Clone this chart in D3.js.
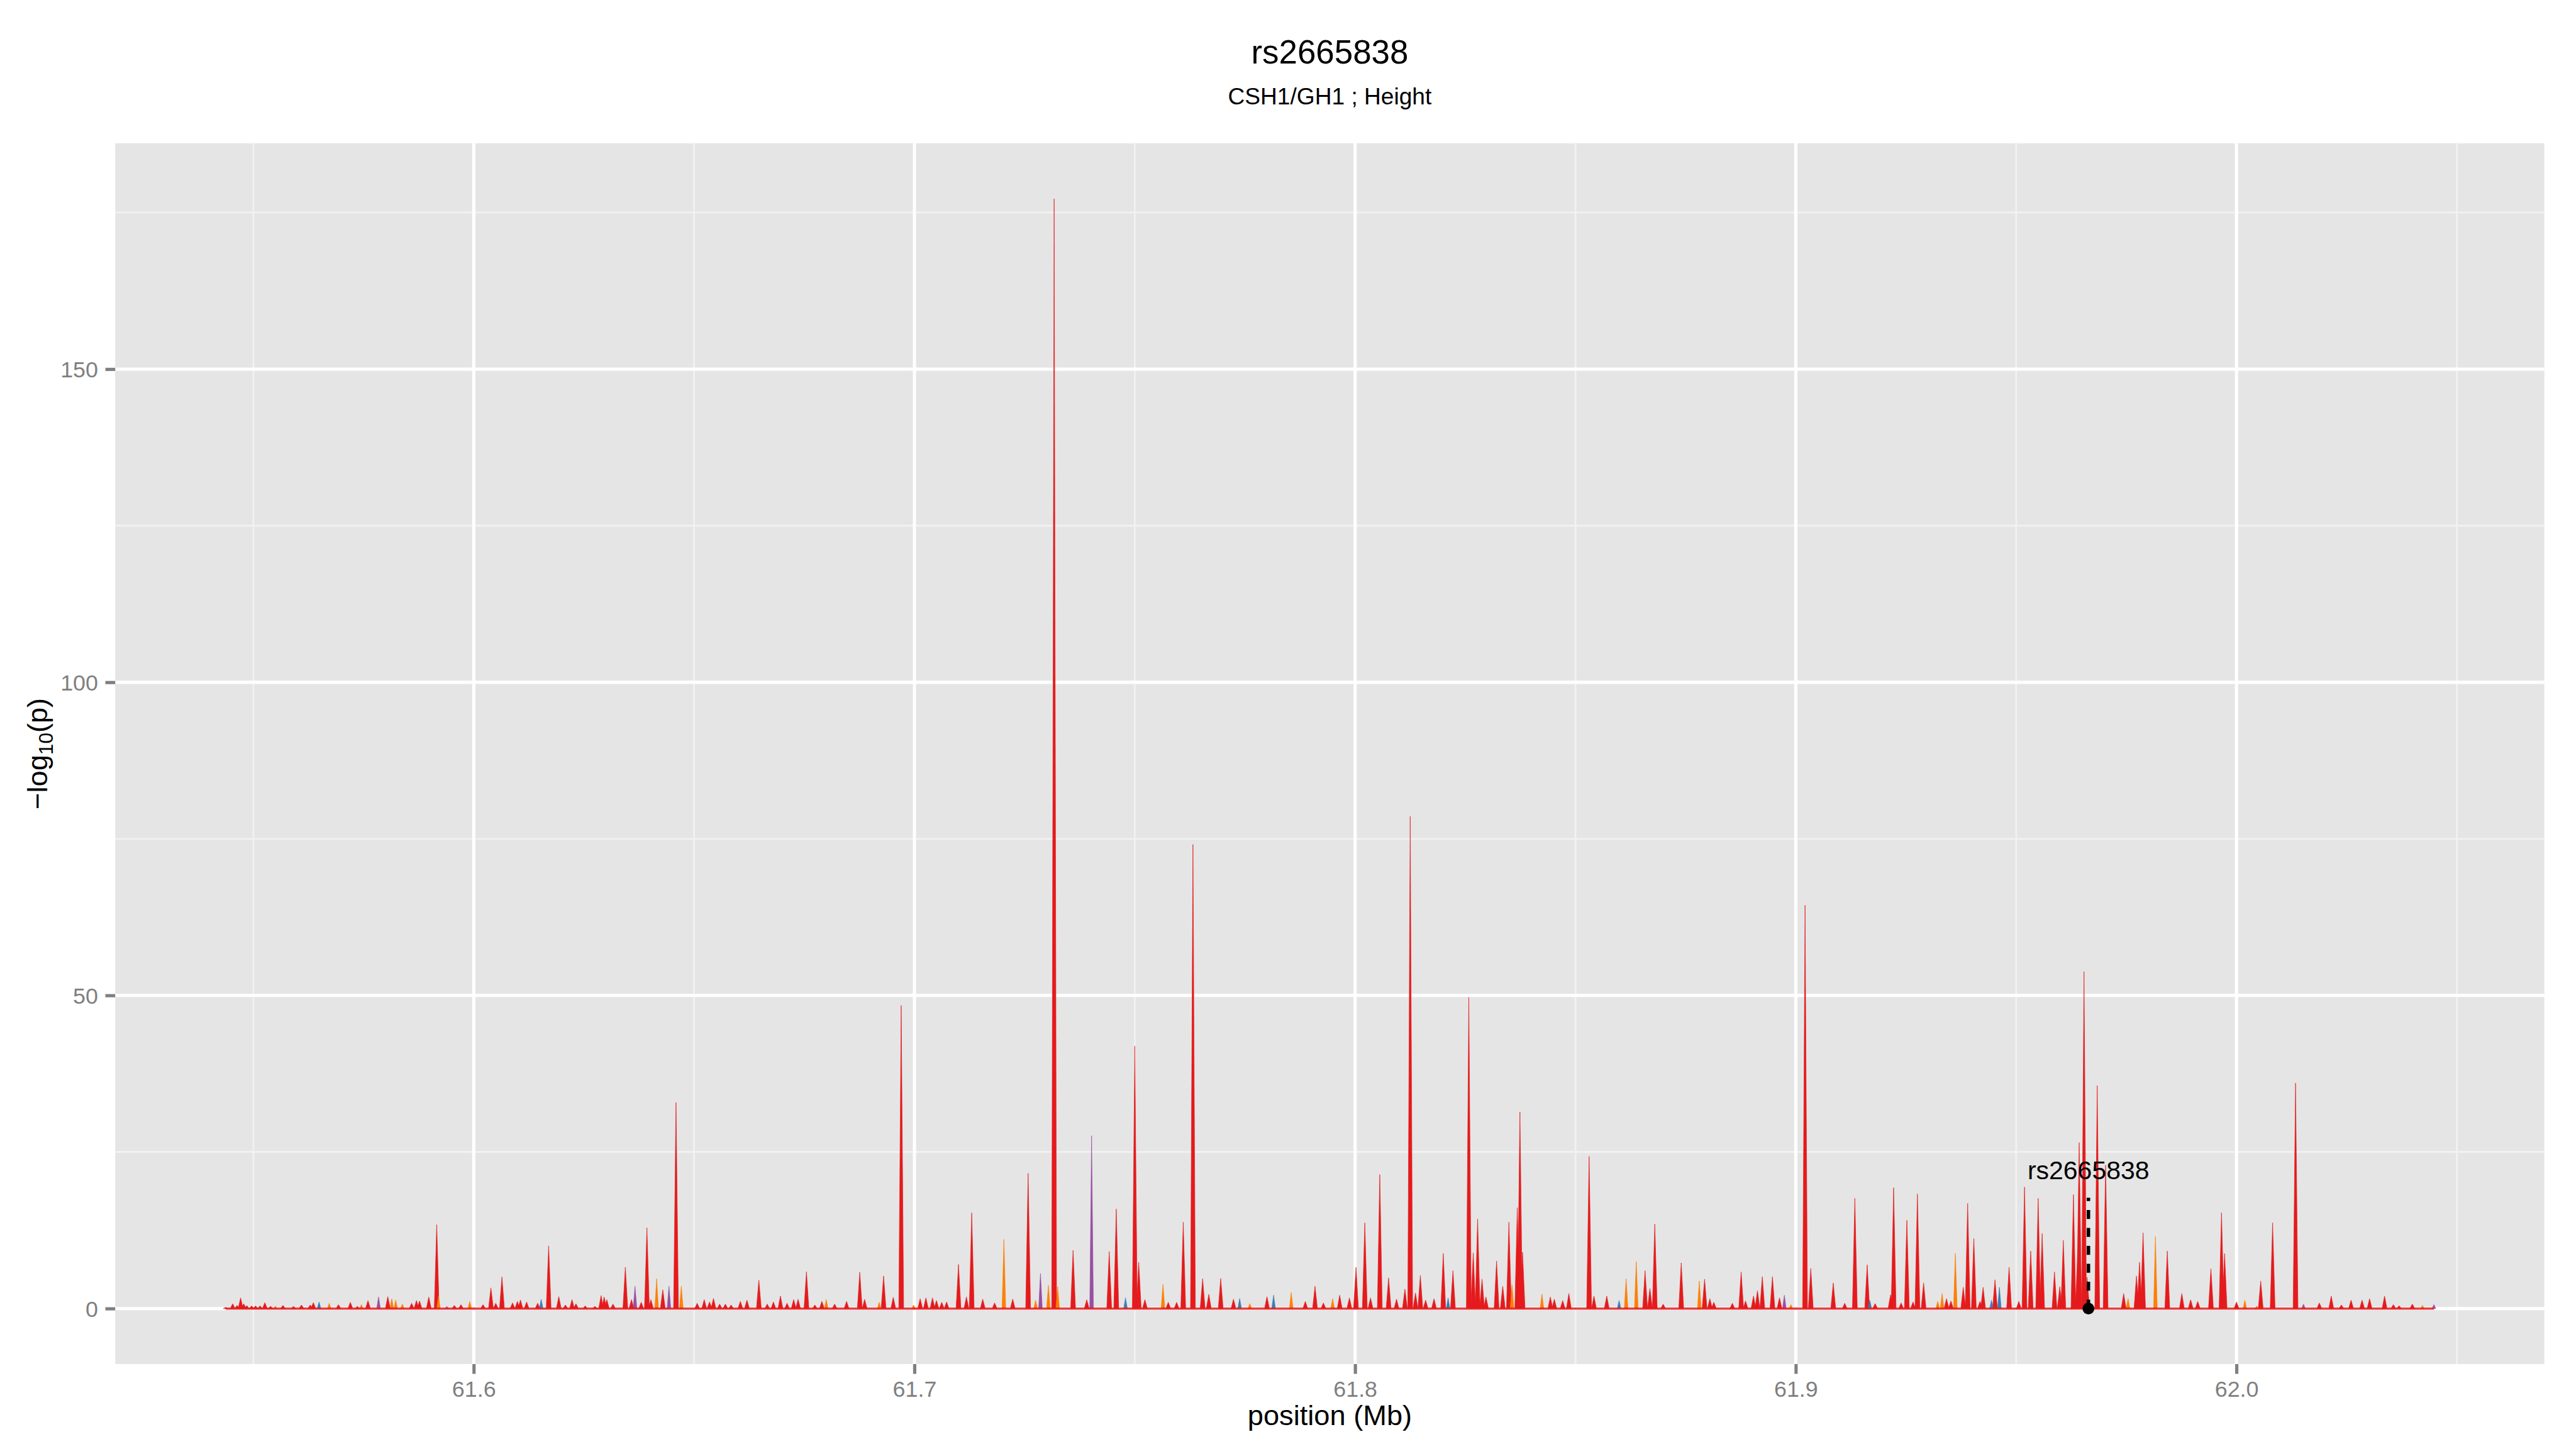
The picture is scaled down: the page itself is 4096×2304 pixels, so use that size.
<!DOCTYPE html>
<html>
<head>
<meta charset="utf-8">
<script src="https://cdnjs.cloudflare.com/ajax/libs/d3/7.8.5/d3.min.js"></script>
<style>
  html, body { margin: 0; padding: 0; background: #ffffff; }
  svg { display: block; }
  text { font-family: "Liberation Sans", Arial, Helvetica, sans-serif; }
</style>
</head>
<body>
<div id="chart"></div>
<script>
// ---------------- DATA ----------------
const chartTitle = "rs2665838";
const chartSubtitle = "CSH1/GH1 ; Height";
const xAxisTitle = "position (Mb)";

const xTickValues = [61.6, 61.7, 61.8, 61.9, 62.0];
const xMinorValues = [61.55, 61.65, 61.75, 61.85, 61.95, 62.05];
const yTickValues = [0, 50, 100, 150];
const yMinorValues = [25, 75, 125, 175];

// LD groups (fill colours)
const groupNames = ["red", "orange", "purple", "blue"];
const groupColors = ["#E41A1C", "#FF7F00", "#984EA3", "#377EB8"];

// red group: position (Mb) and -log10(p)
const redPos = [61.5437,61.5453,61.5463,61.5471,61.5478,61.5485,61.5496,61.5505,61.5515,61.5526,61.5539,61.5567,61.5591,61.5609,61.5629,61.5636,61.5693,61.5720,61.5736,61.5760,61.5805,61.5859,61.5870,61.5877,61.5898,61.5916,61.5956,61.5971,61.6021,61.6039,61.6050,61.6064,61.6088,61.6099,61.6106,61.6120,61.6145,61.6170,61.6193,61.6208,61.6223,61.6232,61.6253,61.6275,61.6289,61.6296,61.6302,61.6316,61.6344,61.6358,61.6380,61.6393,61.6402,61.6429,61.6459,61.6507,61.6523,61.6535,61.6544,61.6558,61.6571,61.6584,61.6605,61.6620,61.6647,61.6666,61.6680,61.6696,61.6711,61.6726,61.6736,61.6755,61.6774,61.6790,61.6819,61.6846,61.6876,61.6887,61.6930,61.6952,61.6970,61.7013,61.7026,61.7041,61.7050,61.7062,61.7073,61.7100,61.7118,61.7130,61.7155,61.7182,61.7223,61.7258,61.7317,61.7360,61.7391,61.7442,61.7458,61.7500,61.7509,61.7523,61.7576,61.7595,61.7610,61.7632,61.7654,61.7668,61.7695,61.7724,61.7800,61.7887,61.7909,61.7928,61.7965,61.7987,61.8002,61.8022,61.8035,61.8056,61.8076,61.8094,61.8113,61.8125,61.8137,61.8148,61.8160,61.8179,61.8200,61.8222,61.8258,61.8268,61.8278,61.8288,61.8297,61.8321,61.8335,61.8349,61.8368,61.8374,61.8380,61.8443,61.8452,61.8471,61.8485,61.8531,61.8542,61.8571,61.8658,61.8669,61.8680,61.8699,61.8740,61.8793,61.8805,61.8814,61.8856,61.8876,61.8886,61.8904,61.8913,61.8924,61.8947,61.8963,61.9021,61.9034,61.9085,61.9111,61.9134,61.9162,61.9180,61.9215,61.9222,61.9239,61.9252,61.9266,61.9276,61.9290,61.9342,61.9352,61.9380,61.9390,61.9404,61.9418,61.9425,61.9452,61.9484,61.9506,61.9519,61.9533,61.9550,61.9559,61.9587,61.9599,61.9607,61.9630,61.9640,61.9643,61.9654,61.9661,61.9684,61.9703,61.9744,61.9773,61.9780,61.9788,61.9843,61.9876,61.9896,61.9912,61.9942,61.9966,61.9973,62.0000,62.0055,62.0082,62.0134,62.0188,62.0215,62.0238,62.0260,62.0285,62.0302,62.0336,62.0356,62.0369,62.0399];
const redLogP = [0.2,0.77,0.5,1.71,0.77,0.48,0.43,0.43,0.43,0.94,0.36,0.5,0.35,0.57,0.57,0.95,0.62,1.0,0.35,1.28,1.91,0.85,1.28,1.2,1.85,13.4,0.5,0.62,0.62,3.3,0.85,5.05,0.9,1.14,1.37,1.05,0.85,10.0,1.91,0.57,1.43,0.77,0.42,0.35,2.08,1.85,1.43,0.71,6.6,1.43,1.0,12.9,1.43,3.0,32.9,0.85,1.43,1.05,1.62,0.71,0.71,0.57,1.14,1.34,4.54,0.71,1.05,2.0,0.85,1.43,1.48,5.9,0.57,1.14,0.71,1.14,5.8,1.48,5.2,1.8,48.4,1.57,1.71,1.71,1.28,1.0,1.05,7.05,1.86,15.3,1.5,0.9,1.5,21.6,177.2,9.3,1.4,9.1,15.9,41.9,7.4,1.43,1.0,1.0,13.8,74.1,4.76,2.28,4.8,1.5,1.9,1.14,3.57,0.9,2.14,1.7,6.6,13.7,1.7,21.4,4.9,1.5,3.1,78.6,2.5,5.3,1.34,1.57,8.8,6.05,49.7,8.9,14.3,4.7,1.85,7.6,3.57,13.8,16.1,31.4,9.0,1.85,1.5,1.28,2.4,24.3,2.0,2.0,6.05,3.2,13.5,0.7,7.3,4.7,1.57,1.0,0.85,5.85,1.2,2.0,2.85,5.1,5.1,1.71,64.4,6.4,4.1,0.85,17.6,7.0,0.8,2.2,19.3,0.9,14.1,1.05,18.3,4.1,1.57,1.2,3.4,16.8,11.2,1.14,3.4,4.6,6.6,1.14,19.4,9.2,17.6,12.0,5.85,3.5,10.9,18.2,9.5,26.5,53.8,5.0,35.6,22.9,2.4,5.2,7.4,12.1,9.2,2.4,1.4,1.14,6.35,15.3,8.8,1.05,4.4,13.7,36.0,0.9,2.0,0.57,1.34,1.34,1.57,2.0,0.63,0.45,0.71];

const orangePos = [61.5550,61.5672,61.5745,61.5814,61.5823,61.5838,61.5920,61.5991,61.6415,61.6471,61.6800,61.6920,61.6998,61.7203,61.7275,61.7304,61.7325,61.7564,61.7761,61.7855,61.7949,61.8356,61.8424,61.8615,61.8638,61.8781,61.8989,61.9322,61.9332,61.9362,61.9754,61.9816,62.0019,62.0046,62.0422];
const orangeLogP = [0.39,0.85,0.62,1.57,1.34,0.71,2.0,1.14,4.77,3.57,1.43,1.0,0.57,11.05,1.34,3.7,3.5,3.9,0.8,2.57,1.57,3.8,2.3,4.77,7.5,4.4,0.63,1.14,2.4,8.8,1.6,11.5,1.34,0.4,0.5];

const purplePos = [61.5784,61.5939,61.6366,61.6443,61.7286,61.7402,61.8974,62.0152,62.0448];
const purpleLogP = [1.85,0.35,3.57,3.57,5.6,27.6,2.14,0.71,0.63];

const bluePos = [61.5649,61.6153,61.7479,61.7738,61.7815,61.8211,61.8599,61.9168,61.9444,61.9462];
const blueLogP = [1.05,1.48,1.7,1.6,2.14,1.7,1.28,1.3,1.34,3.4];

// highlighted SNP
const snpName = "rs2665838";
const snpPos = 61.9664;
const snpLineTop = 17.7;
const snpLabelY = 20.7;

// ---------------- LAYOUT (reference pixel space 4800x2700) ----------------
const W = 4800, H = 2700;
const panel = { left: 214.7, right: 4741, top: 267, bottom: 2541.7 };
const spikeHalf = 0.00055; // Mb, half base width of a spike

const groupPos = [redPos, orangePos, purplePos, bluePos];
const groupLogP = [redLogP, orangeLogP, purpleLogP, blueLogP];

const allPos = [].concat(...groupPos);
const allLogP = [].concat(...groupLogP);
const [xMin, xMax] = d3.extent(allPos);
const yMax = d3.max(allLogP);
const xPad = (xMax - xMin) * 0.05;

const x = d3.scaleLinear().domain([xMin - xPad, xMax + xPad]).range([panel.left, panel.right]);
const y = d3.scaleLinear().domain([-0.05 * yMax, 1.05 * yMax]).range([panel.bottom, panel.top]);
const color = d3.scaleOrdinal(groupNames, groupColors);

const svg = d3.select("#chart").append("svg")
  .attr("width", 4096).attr("height", 2304)
  .attr("viewBox", `0 0 ${W} ${H}`);

svg.append("rect").attr("width", W).attr("height", H).attr("fill", "#ffffff");

// panel background
svg.append("rect")
  .attr("x", panel.left).attr("y", panel.top)
  .attr("width", panel.right - panel.left).attr("height", panel.bottom - panel.top)
  .attr("fill", "#E5E5E5");

const grid = svg.append("g");
// minor grid
grid.selectAll(".xminor").data(xMinorValues).join("line")
  .attr("x1", d => x(d)).attr("x2", d => x(d))
  .attr("y1", panel.top).attr("y2", panel.bottom)
  .attr("stroke", "#F2F2F2").attr("stroke-width", 3.2);
grid.selectAll(".yminor").data(yMinorValues).join("line")
  .attr("x1", panel.left).attr("x2", panel.right)
  .attr("y1", d => y(d)).attr("y2", d => y(d))
  .attr("stroke", "#F2F2F2").attr("stroke-width", 3.2);
// major grid
grid.selectAll(".xmajor").data(xTickValues).join("line")
  .attr("x1", d => x(d)).attr("x2", d => x(d))
  .attr("y1", panel.top).attr("y2", panel.bottom)
  .attr("stroke", "#FFFFFF").attr("stroke-width", 6);
grid.selectAll(".ymajor").data(yTickValues).join("line")
  .attr("x1", panel.left).attr("x2", panel.right)
  .attr("y1", d => y(d)).attr("y2", d => y(d))
  .attr("stroke", "#FFFFFF").attr("stroke-width", 6);

// ---------------- SPIKES ----------------
const area = d3.area()
  .x(d => x(d[0]))
  .y0(y(0))
  .y1(d => y(d[1]));

const dataG = svg.append("g");
groupNames.forEach((g, gi) => {
  const pos = groupPos[gi], lp = groupLogP[gi];
  const hw = gi === 0 ? spikeHalf : spikeHalf * 0.75;
  const spikes = pos.map((p, i) => [[p - hw, 0], [p, lp[i]], [p + hw, 0]]);
  dataG.append("g").selectAll("path").data(spikes).join("path")
    .attr("d", area)
    .attr("fill", color(g))
    .attr("stroke", color(g))
    .attr("stroke-width", 0.8)
    .attr("stroke-linejoin", "miter");
});
// baseline of the area
dataG.append("line")
  .attr("x1", x(xMin)).attr("x2", x(xMax))
  .attr("y1", y(0)).attr("y2", y(0))
  .attr("stroke", "#E41A1C").attr("stroke-width", 4).attr("stroke-opacity", 0.85);

// ---------------- ANNOTATION ----------------
svg.append("line")
  .attr("x1", x(snpPos)).attr("x2", x(snpPos))
  .attr("y1", y(0)).attr("y2", y(snpLineTop))
  .attr("stroke", "#000000").attr("stroke-width", 6.5)
  .attr("stroke-dasharray", "16.7,16.7");
svg.append("circle")
  .attr("cx", x(snpPos)).attr("cy", y(0)).attr("r", 11)
  .attr("fill", "#000000");
svg.append("text")
  .attr("x", x(snpPos)).attr("y", y(snpLabelY))
  .attr("text-anchor", "middle")
  .attr("font-size", 48).attr("fill", "#000000")
  .text(snpName);

// ---------------- AXES ----------------
const xAxis = svg.append("g")
  .attr("transform", `translate(0,${panel.bottom})`)
  .call(d3.axisBottom(x).tickValues(xTickValues).tickFormat(d3.format(".1f"))
    .tickSize(18.3).tickPadding(12.7));
xAxis.select(".domain").remove();
xAxis.selectAll(".tick line").attr("stroke", "#7F7F7F").attr("stroke-width", 6);
xAxis.selectAll(".tick text").attr("fill", "#7F7F7F").attr("font-size", 42)
  .attr("font-family", "Liberation Sans, Arial, sans-serif");

const yAxis = svg.append("g")
  .attr("transform", `translate(${panel.left},0)`)
  .call(d3.axisLeft(y).tickValues(yTickValues).tickFormat(d3.format("d"))
    .tickSize(18.3).tickPadding(13.7));
yAxis.select(".domain").remove();
yAxis.selectAll(".tick line").attr("stroke", "#7F7F7F").attr("stroke-width", 6);
yAxis.selectAll(".tick text").attr("fill", "#7F7F7F").attr("font-size", 42)
  .attr("dy", "0.36em")
  .attr("font-family", "Liberation Sans, Arial, sans-serif");

// ---------------- TITLES ----------------
const cx = (panel.left + panel.right) / 2;
svg.append("text").attr("x", cx).attr("y", 118)
  .attr("text-anchor", "middle").attr("font-size", 62).attr("fill", "#000")
  .text(chartTitle);
svg.append("text").attr("x", cx).attr("y", 194)
  .attr("text-anchor", "middle").attr("font-size", 43.5).attr("fill", "#000")
  .text(chartSubtitle);

svg.append("text").attr("x", cx).attr("y", 2656)
  .attr("text-anchor", "middle").attr("font-size", 53).attr("fill", "#000")
  .text(xAxisTitle);

const yt = svg.append("text")
  .attr("transform", `translate(88,${(panel.top + panel.bottom) / 2}) rotate(-90)`)
  .attr("text-anchor", "middle").attr("font-size", 53).attr("fill", "#000");
yt.append("tspan").text("\u2212log");
yt.append("tspan").attr("font-size", 37).attr("dy", 11).text("10");
yt.append("tspan").attr("dy", -11).text("(p)");
</script>
</body>
</html>
